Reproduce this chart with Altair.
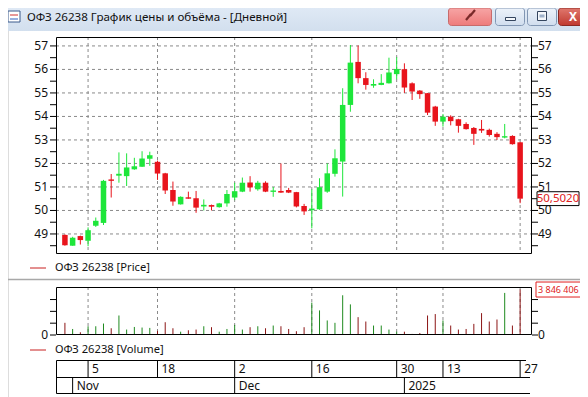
import altair as alt
import pandas as pd

# ---------------- data ----------------
day_index = list(range(60))
opens = [48.96, 48.50, 48.91, 48.71, 49.35, 49.47, 51.32, 51.48, 51.46, 51.75,
         51.86, 52.20, 52.07, 51.58, 50.87, 50.26, 50.56, 50.52, 50.17, 50.23,
         50.14, 50.30, 50.55, 50.80, 51.19, 50.90, 51.18, 50.79, 50.83, 50.87,
         50.78, 50.19, 50.01, 50.05, 50.80, 51.56, 52.08, 54.49, 56.32, 55.63,
         55.31, 55.34, 55.41, 55.80, 56.01, 55.41, 55.10, 54.99, 54.42, 53.78,
         53.99, 53.88, 53.68, 53.51, 53.47, 53.43, 53.26, 53.10, 53.17, 52.90]
highs = [48.98, 48.88, 48.93, 49.28, 49.70, 51.30, 51.55, 52.47, 52.43, 52.24,
         52.52, 52.50, 52.12, 51.60, 51.23, 50.60, 50.80, 50.83, 50.47, 50.25,
         50.32, 50.87, 51.18, 51.40, 51.46, 51.26, 51.24, 51.00, 52.00, 50.96,
         50.79, 50.28, 50.90, 51.37, 52.00, 52.60, 55.20, 57.04, 57.02, 55.88,
         55.58, 55.80, 56.50, 56.52, 56.26, 55.45, 55.12, 55.00, 54.45, 54.10,
         54.05, 53.90, 53.75, 53.55, 53.85, 53.48, 53.33, 53.68, 53.20, 52.92]
lows = [48.50, 48.50, 48.55, 48.48, 49.30, 49.38, 50.55, 51.18, 51.04, 51.73,
        51.85, 51.90, 51.30, 50.70, 50.20, 50.25, 50.50, 49.90, 50.00, 50.00,
        50.12, 50.16, 50.44, 50.78, 50.80, 50.84, 50.78, 50.58, 50.75, 50.74,
        50.13, 49.81, 49.24, 50.03, 50.75, 51.44, 50.59, 54.20, 55.41, 55.14,
        55.22, 55.33, 55.40, 55.58, 55.00, 54.70, 54.75, 54.06, 53.60, 53.57,
        53.62, 53.31, 53.44, 52.79, 53.30, 53.14, 53.00, 53.07, 52.80, 50.31]
closes = [48.52, 48.84, 48.74, 49.16, 49.56, 51.26, 51.26, 51.56, 51.83, 51.88,
          52.21, 52.35, 51.57, 50.85, 50.38, 50.58, 50.50, 50.12, 50.24, 50.16,
          50.30, 50.70, 50.82, 51.18, 50.98, 51.18, 50.80, 50.85, 50.76, 50.76,
          50.17, 49.96, 50.08, 50.99, 51.58, 52.22, 54.49, 56.29, 55.63, 55.34,
          55.38, 55.43, 55.87, 56.02, 55.23, 55.06, 54.95, 54.16, 53.78, 53.99,
          53.80, 53.60, 53.46, 53.26, 53.40, 53.21, 53.12, 53.16, 52.82, 50.502]
volumes = [1030000, 510000, 230000, 740000, 740000, 970000, 570000, 1650000, 460000, 680000,
           630000, 600000, 350000, 1080000, 570000, 280000, 400000, 460000, 740000, 660000,
           280000, 510000, 850000, 460000, 660000, 740000, 570000, 800000, 740000, 510000,
           320000, 660000, 2740000, 2080000, 1230000, 1030000, 3360000, 2590000, 1510000, 1140000,
           800000, 800000, 460000, 280000, 280000, 90000, 170000, 1650000, 1770000, 1230000,
           800000, 460000, 510000, 940000, 1850000, 1140000, 1310000, 3560000, 800000, 3846406]

price_ticks = [49, 50, 51, 52, 53, 54, 55, 56, 57]
price_tick_labels = ["49", "50", "51", "52", "53", "54", "55", "56", "57"]
price_half_ticks = [48.5, 49.5, 50.5, 51.5, 52.5, 53.5, 54.5, 55.5, 56.5]
volume_ticks = [0, 1000000, 2000000, 3000000]
volume_tick_labels = ["0"]
date_grid_idx = [3, 12, 22, 32, 43, 49, 59]
date_grid_labels = ["5", "18", "2", "16", "30", "13", "27"]
month_idx = [1, 22, 44]
month_labels = ["Nov", "Dec", "2025"]
last_price = [50.502]
last_price_label = ["50,5020"]
max_volume = [3846406]
max_volume_label = ["3 846 406"]
title_text = "ОФЗ 26238 График цены и объёма - [Дневной]"
price_legend = "ОФЗ 26238 [Price]"
volume_legend = "ОФЗ 26238 [Volume]"

# ---------------- tables ----------------
cdf = pd.DataFrame({"i": day_index, "open": opens, "high": highs, "low": lows,
                    "close": closes, "vol": volumes})
cdf["v0"] = 0
pt_df = pd.DataFrame({"v": price_ticks, "lab": price_tick_labels})
pall_df = pd.DataFrame({"v": price_ticks + price_half_ticks})
vt_df = pd.DataFrame({"v": volume_ticks})
v0_df = pd.DataFrame({"v": [0], "lab": volume_tick_labels})
dg_df = pd.DataFrame({"i": date_grid_idx, "lab": date_grid_labels})
mo_df = pd.DataFrame({"i": month_idx, "lab": month_labels})
lp_df = pd.DataFrame({"v": last_price, "lab": last_price_label})
mv_df = pd.DataFrame({"v": max_volume, "lab": max_volume_label})
one = pd.DataFrame({"k": [0]})

FONT = "Noto Sans"
GREEN = "#1EE63A"
RED = "#E8141C"
VGREEN = "#1F8A1F"
VRED = "#8C1515"
GRID = "#8a8a8a"
TXT = "#111111"

xs = alt.Scale(domain=[-0.5076, 59.761], range=[48, 523], zero=False, nice=False)
ps = alt.Scale(domain=[48.19, 57.38], range=[245, 29], zero=False, nice=False)
vs = alt.Scale(domain=[0, 4060000], range=[327, 279], zero=False, nice=False)

X = alt.X("i:Q", scale=xs, axis=None)
up = "datum.close >= datum.open"


def box(x, x2, y, y2, **mk):
    return alt.Chart(one).mark_rect(**mk).encode(
        x=alt.value(x), x2=alt.value(x2), y=alt.value(y), y2=alt.value(y2))


def seg(x, x2, y, y2, **mk):
    return alt.Chart(one).mark_rule(**mk).encode(
        x=alt.value(x), x2=alt.value(x2), y=alt.value(y), y2=alt.value(y2))


def label(x, y, s, **mk):
    kw = dict(align="left", baseline="middle", font=FONT, fontSize=12, color=TXT)
    kw.update(mk)
    return alt.Chart(one).mark_text(text=s, **kw).encode(x=alt.value(x), y=alt.value(y))


def grad(c1, c2):
    return alt.Gradient(gradient="linear", x1=0, x2=0, y1=0, y2=1,
                        stops=[alt.GradientStop(color=c1, offset=0),
                               alt.GradientStop(color=c2, offset=1)])


layers = []

# ---- window chrome ----
layers.append(box(0, 572, 0, 23, fill=grad("#DFE9F5", "#D2DFEE")))
layers.append(box(0, 12, 3, 14, fill="white", stroke="#3A5A8C", strokeWidth=1))
layers.append(seg(2, 10, 7, 7, color="#D03030", strokeWidth=1))
layers.append(seg(2, 10, 11, 11, color="#3060C0", strokeWidth=1))
layers.append(label(19, 9.5, title_text, fontSize=11.6))
# link button
layers.append(box(440.5, 483.5, 0, 17.5, fill=grad("#F7A5A5", "#EE7B7B"), stroke="#C76B6B",
                  cornerRadius=3))
layers.append(seg(458, 463, 12, 6, color="#7A2A2A", strokeWidth=2.2))
layers.append(seg(462, 467, 8, 2, color="#7A2A2A", strokeWidth=2.2))
# minimize / maximize
for bx in (487.5, 519.5):
    layers.append(box(bx, bx + 29, 0, 17.5, fill=grad("#EDF3FA", "#D0DDEE"), stroke="#8196B3",
                      cornerRadius=3))
layers.append(box(497.5, 507.5, 9.5, 12.5, fill="#F4F7FB", stroke="#34455E"))
layers.append(box(529.5, 538.5, 3.5, 12.5, fill="#F4F7FB", stroke="#34455E"))
layers.append(box(531.5, 536.5, 6.5, 9.5, fill="#9FB2CB"))
# close
layers.append(box(550.5, 579.5, 0, 17.5, fill=grad("#E0786E", "#C0392F"), stroke="#8B2A24",
                  cornerRadius=3))
layers.append(label(565, 8.5, "X", align="center", fontSize=12, fontWeight="bold", color="white"))

# ---- price panel ----
layers.append(alt.Chart(pt_df).mark_rule(color=GRID, strokeDash=[3, 3]).encode(
    y=alt.Y("v:Q", scale=ps, axis=None), x=alt.value(48), x2=alt.value(523)))
layers.append(alt.Chart(dg_df).mark_rule(color=GRID, strokeDash=[3, 3]).encode(
    x=X, y=alt.value(29), y2=alt.value(245)))
layers.append(alt.Chart(cdf).mark_rule(strokeWidth=1).encode(
    x=X, y=alt.Y("low:Q", scale=ps, axis=None), y2="high:Q",
    color=alt.condition(up, alt.value(GREEN), alt.value(RED))))
layers.append(alt.Chart(cdf).mark_bar(size=5.5).encode(
    x=X, y=alt.Y("open:Q", scale=ps, axis=None), y2="close:Q",
    color=alt.condition(up, alt.value(GREEN), alt.value(RED))))
layers.append(box(48.5, 523.5, 29.5, 245.5, fill="transparent", stroke="black", strokeWidth=1))
layers.append(alt.Chart(pall_df).mark_rule(color="black").encode(
    y=alt.Y("v:Q", scale=ps, axis=None), x=alt.value(42), x2=alt.value(48)))
layers.append(alt.Chart(pall_df).mark_rule(color="black").encode(
    y=alt.Y("v:Q", scale=ps, axis=None), x=alt.value(524), x2=alt.value(530)))
layers.append(alt.Chart(pt_df).mark_text(align="right", baseline="middle", font=FONT,
                                         fontSize=12, color=TXT).encode(
    y=alt.Y("v:Q", scale=ps, axis=None), x=alt.value(40), text="lab:N"))
layers.append(alt.Chart(pt_df).mark_text(align="left", baseline="middle", font=FONT,
                                         fontSize=12, color=TXT).encode(
    y=alt.Y("v:Q", scale=ps, axis=None), x=alt.value(530), text="lab:N"))
layers.append(alt.Chart(lp_df).mark_point(
    shape="M-1,-0.33L1,-0.33L1,0.33L-1,0.33Z", size=1764, filled=True, fill="white",
    stroke="black", strokeWidth=1, opacity=1).encode(
    y=alt.Y("v:Q", scale=ps, axis=None), x=alt.value(550)))
layers.append(alt.Chart(lp_df).mark_text(align="center", baseline="middle", font=FONT,
                                         fontSize=11.5, color="#E02020").encode(
    y=alt.Y("v:Q", scale=ps, axis=None), x=alt.value(550), text="lab:N"))

# legend row + separator
layers.append(seg(22, 38, 260, 260, color="#C82020", strokeWidth=1))
layers.append(label(47, 260, price_legend, fontSize=11.2))
layers.append(seg(0, 572, 271.5, 271.5, color="#A8A8A8", strokeWidth=1.5))

# ---- volume panel ----
layers.append(alt.Chart(dg_df).mark_rule(color=GRID, strokeDash=[3, 3]).encode(
    x=X, y=alt.value(279), y2=alt.value(327)))
layers.append(alt.Chart(cdf).mark_rule(strokeWidth=1).encode(
    x=X, y=alt.Y("vol:Q", scale=vs, axis=None), y2="v0:Q",
    color=alt.condition(up, alt.value(VGREEN), alt.value(VRED))))
layers.append(box(48.5, 523.5, 279.5, 326.5, fill="transparent", stroke="black", strokeWidth=1))
layers.append(alt.Chart(vt_df).mark_rule(color="black").encode(
    y=alt.Y("v:Q", scale=vs, axis=None), x=alt.value(42), x2=alt.value(48)))
layers.append(alt.Chart(vt_df).mark_rule(color="black").encode(
    y=alt.Y("v:Q", scale=vs, axis=None), x=alt.value(524), x2=alt.value(530)))
layers.append(alt.Chart(v0_df).mark_text(align="right", baseline="middle", font=FONT,
                                         fontSize=12, color=TXT).encode(
    y=alt.Y("v:Q", scale=vs, axis=None), x=alt.value(40), text="lab:N"))
layers.append(alt.Chart(v0_df).mark_text(align="left", baseline="middle", font=FONT,
                                         fontSize=12, color=TXT).encode(
    y=alt.Y("v:Q", scale=vs, axis=None), x=alt.value(530), text="lab:N"))
layers.append(alt.Chart(mv_df).mark_point(
    shape="M-1,-0.3L1,-0.3L1,0.3L-1,0.3Z", size=2500, filled=True, fill="white",
    stroke="#E02020", strokeWidth=1, opacity=1).encode(
    y=alt.Y("v:Q", scale=vs, axis=None), x=alt.value(553)))
layers.append(alt.Chart(mv_df).mark_text(align="left", baseline="middle", font=FONT,
                                         fontSize=9, color="#E02020").encode(
    y=alt.Y("v:Q", scale=vs, axis=None), x=alt.value(530), text="lab:N"))

layers.append(seg(22, 38, 342, 342, color="#C82020", strokeWidth=1))
layers.append(label(47, 342, volume_legend, fontSize=11.2))

# ---- date table ----
layers.append(seg(48.5, 518, 352.5, 352.5, color="black"))
layers.append(seg(48.5, 522, 369.5, 369.5, color="black"))
layers.append(seg(48.5, 522, 385.5, 385.5, color="black"))
layers.append(seg(48.5, 48.5, 352.5, 385.5, color="black"))
layers.append(alt.Chart(dg_df).mark_rule(color="black").encode(
    x=X, y=alt.value(352.5), y2=alt.value(369.5)))
layers.append(alt.Chart(mo_df).mark_rule(color="black").encode(
    x=X, y=alt.value(369.5), y2=alt.value(385.5)))
layers.append(alt.Chart(dg_df).mark_text(align="left", baseline="middle", font=FONT,
                                         fontSize=12, color=TXT, dx=4).encode(
    x=X, y=alt.value(360.5), text="lab:N"))
layers.append(alt.Chart(mo_df).mark_text(align="left", baseline="middle", font=FONT,
                                         fontSize=12, color=TXT, dx=4).encode(
    x=X, y=alt.value(377.5), text="lab:N"))

chart = alt.layer(*layers).resolve_scale(y="independent").properties(
    width=572, height=389, padding=0,
    autosize=alt.AutoSizeParams(type="none"),
).configure_view(stroke=None).configure(background="white")

chart.save("out.html", embed_options={"renderer": "svg", "actions": False})
